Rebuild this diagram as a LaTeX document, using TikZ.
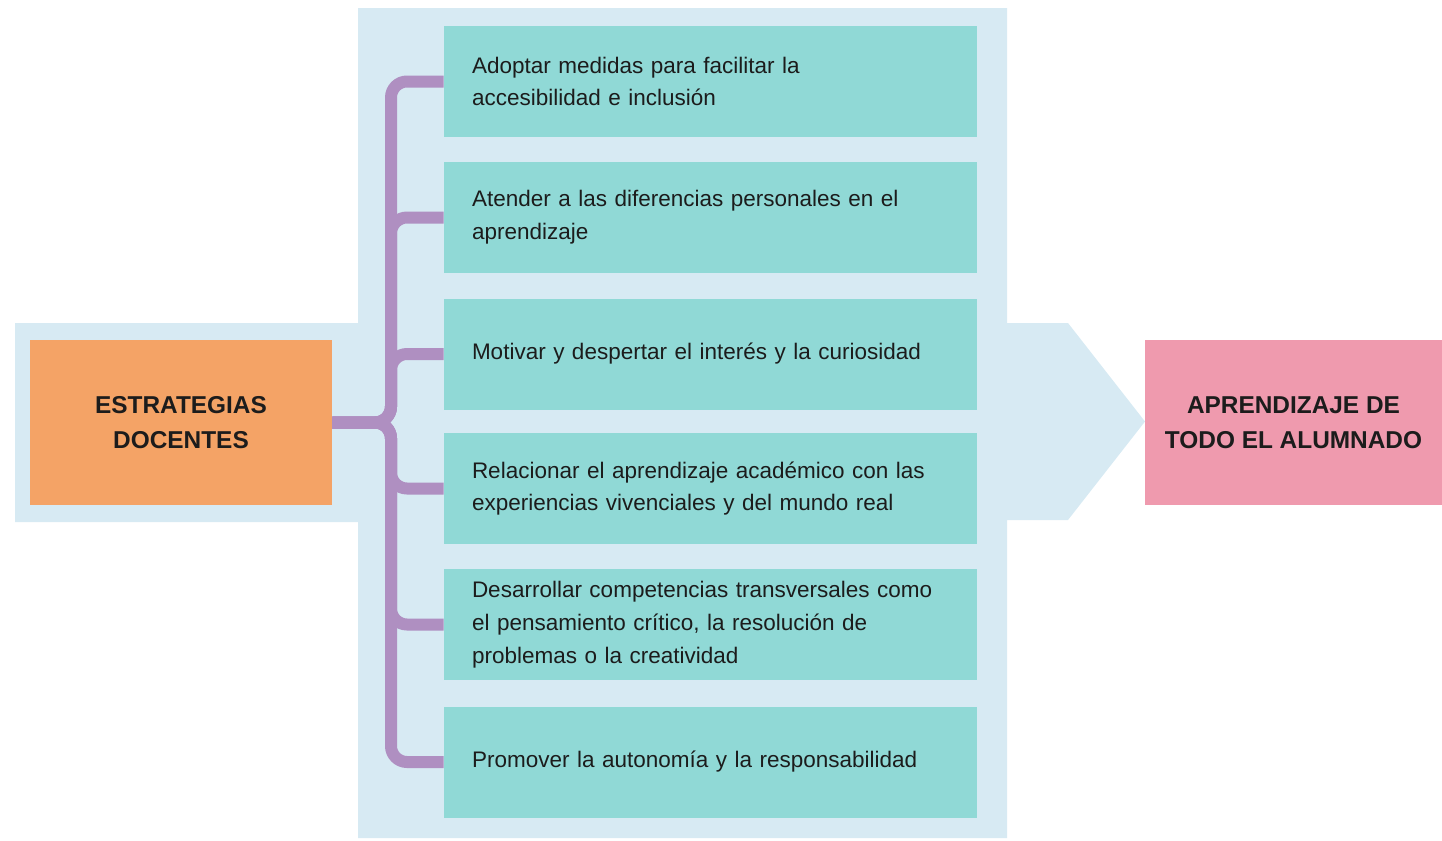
\documentclass[tikz,border=0pt]{standalone}
\usepackage{fontspec}
\setmainfont{Liberation Sans}
\definecolor{panelblue}{HTML}{D7EAF3}
\definecolor{tealbox}{HTML}{90D9D6}
\definecolor{orangebox}{HTML}{F4A366}
\definecolor{pinkbox}{HTML}{EF9AAE}
\definecolor{bracepurple}{HTML}{AF8FC1}
\definecolor{inktext}{HTML}{1C1C1C}

\begin{document}
\begin{tikzpicture}[x=0.5pt,y=-0.5pt,
    item/.style={fill=tealbox,minimum width=266.5pt,minimum height=55.5pt,text width=238.5pt,inner xsep=14pt,inner ysep=0pt,align=left,text=inktext,font=\fontsize{11.25}{16.4}\selectfont},
    goal/.style={minimum height=82.5pt,inner sep=0pt,align=center,text=inktext,font=\fontsize{12.2}{17.5}\selectfont\bfseries},
    brace/.style={draw=bracepurple,line width=6pt,rounded corners=8pt}]
            \useasboundingbox (0,0) rectangle (1442,841);
            \fill[panelblue] (358,8) -- (1007,8) -- (1007,323) -- (1068,323) -- (1145,421.5) -- (1068,520) -- (1007,520) -- (1007,838) -- (358,838) -- (358,522) -- (15,522) -- (15,323) -- (358,323) -- cycle;
            \node[goal,fill=orangebox,minimum width=151pt](Start)at(181, 422.5){ESTRATEGIAS\\DOCENTES};
            \node[goal,fill=pinkbox,minimum width=148.5pt](End)at(1293.5, 422.5){APRENDIZAJE DE\\TODO EL ALUMNADO};
            \node[item](1)at(710.5, 81.5){Adoptar medidas para facilitar la\\accesibilidad e inclusión};
            \node[item](2)at(710.5, 217.5){Atender a las diferencias personales en el\\aprendizaje};
            \node[item](3)at(710.5, 354){Motivar y despertar el interés y la curiosidad};
            \node[item](4)at(710.5, 488.5){Relacionar el aprendizaje académico con las\\experiencias vivenciales y del mundo real};
            \node[item](5)at(710.5, 624.5){Desarrollar competencias transversales como\\el pensamiento crítico, la resolución de\\problemas o la creatividad};
            \node[item](6)at(710.5, 762){Promover la autonomía y la responsabilidad};
            \coordinate (hub) at (391, 422.5);
            \foreach \i in {1,...,6}
                \draw[brace] (Start.east) -- (hub) |- (\i.west);
        \end{tikzpicture}
\end{document}
